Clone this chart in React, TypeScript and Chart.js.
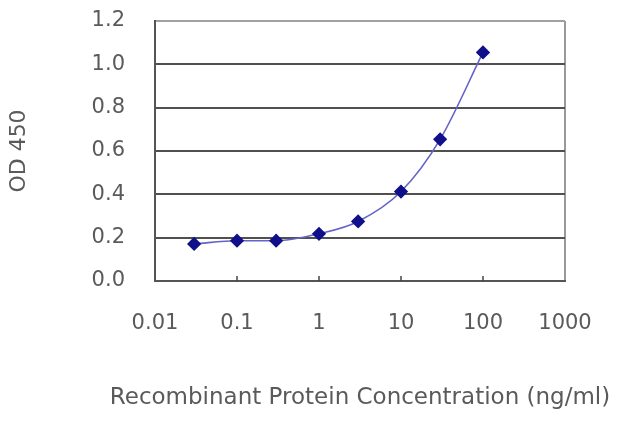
import * as React from 'react';
import {useRef, useEffect} from 'react';
import {Chart, registerables} from 'chart.js';

Chart.register(...registerables);

const concentrations = [0.03, 0.1, 0.3, 1, 3, 10, 30, 100];
const odValues = [0.171, 0.186, 0.186, 0.218, 0.275, 0.413, 0.654, 1.055];
const xTickValues = [0.01, 0.1, 1, 10, 100, 1000];
const yTickValues = [0, 0.2, 0.4, 0.6, 0.8, 1.0, 1.2];
const xTitle = 'Recombinant Protein Concentration (ng/ml)';

const FONT = '"DejaVu Sans", sans-serif';
const TEXT = '#5a5a5a';

// small inward tick marks on the x axis, plus the x title centred on the plot
// (the scale title would be squeezed to the plot width)
const extras = {
  id: 'extras',
  afterDraw(chart: any) {
    const {ctx, chartArea, scales} = chart;
    const x = scales.x;
    ctx.save();
    ctx.strokeStyle = '#444';
    ctx.lineWidth = 1.5;
    xTickValues.slice(1, -1).forEach((v) => {
      const px = x.getPixelForValue(v);
      ctx.beginPath();
      ctx.moveTo(px, chartArea.bottom);
      ctx.lineTo(px, chartArea.bottom - 5);
      ctx.stroke();
    });
    ctx.fillStyle = TEXT;
    ctx.font = '23px ' + FONT;
    ctx.textAlign = 'center';
    ctx.textBaseline = 'middle';
    ctx.fillText(xTitle, (chartArea.left + chartArea.right) / 2, chartArea.bottom + 117);
    ctx.restore();
  },
};

function OdChart(): JSX.Element {
  const chartContainer = useRef(null);

  useEffect(() => {
    if (!chartContainer.current) return;
    // @ts-ignore
    const chart = new Chart(chartContainer.current, {
      type: 'line',
      data: {
        datasets: [{
          data: concentrations.map((c, i) => ({x: c, y: odValues[i]})),
          borderColor: '#6464c8',
          borderWidth: 1.6,
          cubicInterpolationMode: 'monotone',
          pointStyle: 'rectRot',
          pointRadius: 6,
          pointBackgroundColor: '#10108a',
          pointBorderColor: '#10108a',
        }],
      },
      options: {
        animation: false,
        responsive: false,
        layout: {padding: {top: 21, right: 75, left: 0, bottom: 0}},
        plugins: {legend: {display: false}, tooltip: {enabled: false}},
        scales: {
          x: {
            type: 'logarithmic',
            min: 0.01,
            max: 1000,
            afterBuildTicks: (scale: any) => {
              scale.ticks = xTickValues.map((v) => ({value: v}));
            },
            afterFit: (scale: any) => {
              scale.height = 146;
              scale.paddingLeft = 0;
              scale.paddingRight = 0;
            },
            border: {color: '#555', width: 2},
            grid: {
              drawTicks: false,
              color: (ctx: any) => (ctx.tick && ctx.tick.value === 1000 ? '#999' : 'transparent'),
              lineWidth: 2,
            },
            ticks: {
              padding: 30,
              color: TEXT,
              font: {family: FONT, size: 21},
              callback: (v: any) => String(v),
            },
          },
          y: {
            min: 0,
            max: 1.2,
            afterBuildTicks: (scale: any) => {
              scale.ticks = yTickValues.map((v) => ({value: v}));
            },
            afterFit: (scale: any) => {
              scale.width = 155;
              scale.paddingTop = 0;
              scale.paddingBottom = 0;
            },
            border: {color: '#555', width: 2},
            grid: {
              drawTicks: false,
              color: (ctx: any) => (ctx.tick && ctx.tick.value === 1.2 ? '#a0a0a0' : '#505050'),
              lineWidth: 2,
            },
            ticks: {
              padding: 30,
              color: TEXT,
              font: {family: FONT, size: 21},
              callback: (v: any) => Number(v).toFixed(1),
            },
            title: {
              display: true,
              text: 'OD 450',
              color: TEXT,
              font: {family: FONT, size: 22},
              padding: {top: 6, bottom: 0},
            },
          },
        },
      },
      plugins: [extras],
    });
    return () => chart.destroy();
  }, []);

  return (
    <div style={{position: 'fixed', left: 0, top: 0, width: 640, height: 427, background: '#fff'}}>
      <canvas ref={chartContainer} width={640} height={427} />
    </div>
  );
}

export default function App(): JSX.Element {
  return <OdChart />;
}
